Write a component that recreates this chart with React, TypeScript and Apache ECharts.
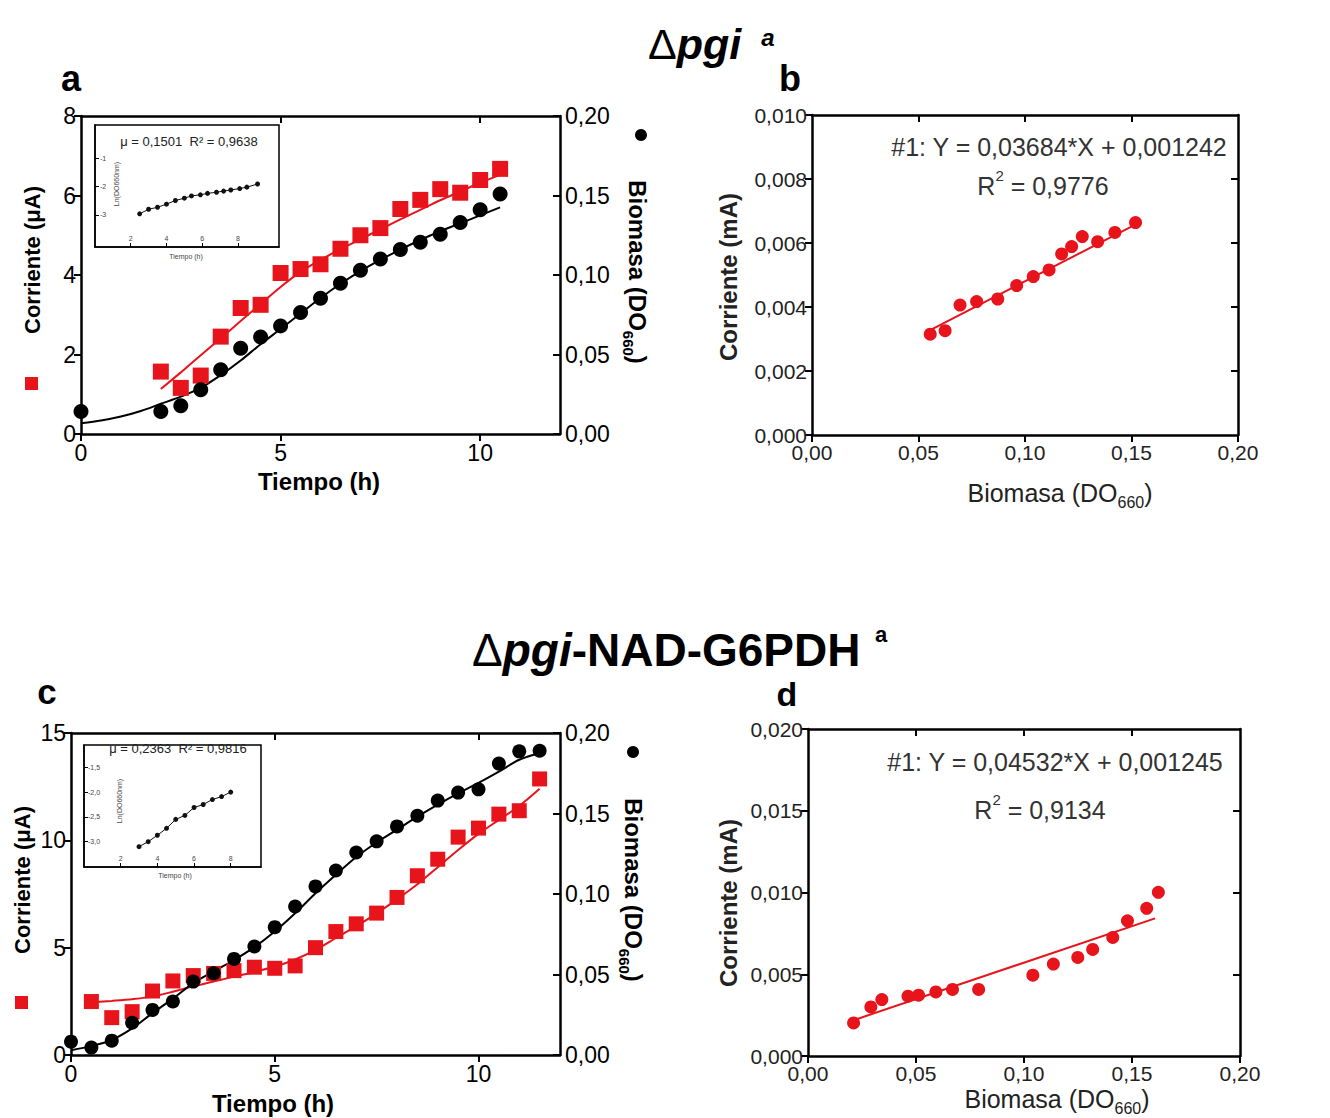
import React, { useEffect, useRef } from "react";
import * as echarts from "echarts";

const RED = "#e8141c";
const FONT = "'Liberation Sans', Arial, Helvetica, sans-serif";

// ---------- Panel a (Δpgi) ----------
const timeACorr = [2, 2.5, 3, 3.5, 4, 4.5, 5, 5.5, 6, 6.5, 7, 7.5, 8, 8.5, 9, 9.5, 10, 10.5];
const corrA = [1.57, 1.16, 1.47, 2.45, 3.17, 3.25, 4.05, 4.15, 4.27, 4.66, 5.0, 5.18, 5.66, 5.89, 6.16, 6.07, 6.39, 6.67];
const timeABio = [0, 2, 2.5, 3, 3.5, 4, 4.5, 5, 5.5, 6, 6.5, 7, 7.5, 8, 8.5, 9, 9.5, 10, 10.5];
const bioA = [0.0142, 0.0142, 0.0178, 0.0278, 0.0404, 0.054, 0.061, 0.068, 0.0764, 0.0854, 0.0948, 0.103, 0.11, 0.116, 0.1206, 0.1256, 0.133, 0.141, 0.151];
const fitACorrX = [2, 2.5, 3, 3.5, 4, 4.5, 5, 5.5, 6, 6.5, 7, 7.5, 8, 8.5, 9, 9.5, 10, 10.5];
const fitACorrY = [1.13, 1.55, 1.98, 2.41, 2.84, 3.27, 3.7, 4.08, 4.38, 4.65, 4.9, 5.15, 5.4, 5.64, 5.88, 6.1, 6.32, 6.52];
const fitABioX = [0, 0.5, 1, 1.5, 2, 2.5, 3, 3.5, 4, 4.5, 5, 5.5, 6, 6.5, 7, 7.5, 8, 8.5, 9, 9.5, 10, 10.5];
const fitABioY = [0.0068, 0.0085, 0.011, 0.0145, 0.019, 0.0235, 0.029, 0.037, 0.0462, 0.0565, 0.066, 0.0758, 0.0855, 0.0945, 0.1025, 0.1095, 0.116, 0.122, 0.1275, 0.1325, 0.1375, 0.1425];
const insetAX = [2.5, 3.0, 3.5, 4.0, 4.5, 5.0, 5.4, 5.9, 6.3, 6.8, 7.2, 7.6, 8.1, 8.5, 9.1];
const insetAY = [-2.96, -2.8, -2.73, -2.62, -2.49, -2.41, -2.33, -2.29, -2.24, -2.2, -2.16, -2.12, -2.07, -2.02, -1.91];

// ---------- Panel b ----------
const bioB = [0.0555, 0.0625, 0.0695, 0.0773, 0.0872, 0.0961, 0.1039, 0.1113, 0.1172, 0.1219, 0.1269, 0.1341, 0.1422, 0.1519];
const corrB = [0.00315, 0.00326, 0.00406, 0.00417, 0.00425, 0.00467, 0.00495, 0.00516, 0.00566, 0.00589, 0.0062, 0.00604, 0.00633, 0.00664];
const fitBX = [0.0555, 0.152];
const fitBY = [0.00328, 0.00658];

// ---------- Panel c (Δpgi-NAD-G6PDH) ----------
const timeCCorr = [0.5, 1, 1.5, 2, 2.5, 3, 3.5, 4, 4.5, 5, 5.5, 6, 6.5, 7, 7.5, 8, 8.5, 9, 9.5, 10, 10.5, 11, 11.5];
const corrC = [2.49, 1.74, 2.02, 2.98, 3.45, 3.7, 3.8, 3.93, 4.09, 4.04, 4.15, 5.0, 5.75, 6.11, 6.61, 7.34, 8.35, 9.12, 10.15, 10.57, 11.22, 11.38, 12.86];
const timeCBio = [0, 0.5, 1, 1.5, 2, 2.5, 3, 3.5, 4, 4.5, 5, 5.5, 6, 6.5, 7, 7.5, 8, 8.5, 9, 9.5, 10, 10.5, 11, 11.5];
const bioC = [0.0083, 0.0046, 0.0089, 0.02, 0.028, 0.0332, 0.0456, 0.0508, 0.0597, 0.0674, 0.0794, 0.0922, 0.1047, 0.1146, 0.1258, 0.1327, 0.142, 0.1486, 0.158, 0.163, 0.165, 0.181, 0.1886, 0.189];
const fitCCorrX = [0.5, 1, 1.5, 2, 2.5, 3, 3.5, 4, 4.5, 5, 5.5, 6, 6.5, 7, 7.5, 8, 8.5, 9, 9.5, 10, 10.5, 11, 11.5];
const fitCCorrY = [2.45, 2.52, 2.6, 2.72, 2.95, 3.2, 3.42, 3.65, 3.87, 4.12, 4.45, 4.9, 5.45, 6.0, 6.6, 7.25, 7.95, 8.75, 9.55, 10.3, 10.95, 11.6, 12.4];
const fitCBioX = [0, 0.5, 1, 1.5, 2, 2.5, 3, 3.5, 4, 4.5, 5, 5.5, 6, 6.5, 7, 7.5, 8, 8.5, 9, 9.5, 10, 10.5, 11, 11.5];
const fitCBioY = [0.003, 0.0055, 0.0093, 0.0165, 0.026, 0.035, 0.0446, 0.052, 0.059, 0.067, 0.0767, 0.088, 0.1005, 0.112, 0.123, 0.132, 0.14, 0.148, 0.1555, 0.1625, 0.169, 0.176, 0.1834, 0.1876];
const insetCX = [3, 3.5, 4, 4.5, 5, 5.5, 6, 6.5, 7, 7.5, 8];
const insetCY = [-3.1, -3.0, -2.87, -2.73, -2.55, -2.47, -2.31, -2.25, -2.15, -2.09, -2.0];

// ---------- Panel d ----------
const bioD = [0.0211, 0.0291, 0.0342, 0.0463, 0.0512, 0.0592, 0.0669, 0.079, 0.1041, 0.1136, 0.1249, 0.1318, 0.1411, 0.1479, 0.1568, 0.1622];
const corrD = [0.00202, 0.003, 0.00345, 0.00366, 0.00372, 0.00392, 0.00407, 0.00407, 0.00494, 0.00562, 0.00603, 0.00652, 0.00725, 0.00827, 0.00903, 0.01001];
const fitDX = [0.0211, 0.1607];
const fitDY = [0.00219, 0.00842];

// ---------- tick values ----------
const timeTicks = [0, 5, 10];
const timeTopTicks = [5, 10];
const curATicks = [0, 2, 4, 6, 8];
const curCTicks = [0, 5, 10, 15];
const bioTicks = [0, 0.05, 0.1, 0.15, 0.2];
const bioInnerTicks = [0.05, 0.1, 0.15];
const mABTicks = [0, 0.002, 0.004, 0.006, 0.008, 0.01];
const mABInner = [0.002, 0.004, 0.006, 0.008];
const mADTicks = [0, 0.005, 0.01, 0.015, 0.02];
const mADInner = [0.005, 0.01, 0.015];
const insetTimeTicks = [2, 4, 6, 8];
const insetATicks = [-3, -2, -1];
const insetCTicks = [-3, -2.5, -2, -1.5];

const zip = (xs: number[], ys: number[]) => xs.map((x, i) => [x, ys[i]]);
const comma = (d: number) => (v: number) => v.toFixed(d).replace(".", ",");

const AX = { show: true, onZero: false, lineStyle: { color: "#000", width: 2.5 } };

function mainAxis(o: any) {
  const labelsShown = o.labels !== undefined;
  return {
    type: "value",
    gridIndex: o.grid,
    position: o.position,
    min: o.min,
    max: o.max,
    axisLine: AX,
    splitLine: { show: false },
    axisTick: {
      show: true,
      inside: !!o.inside,
      length: o.tickLen || 7,
      customValues: o.ticks,
      lineStyle: { color: "#000", width: 2 },
    },
    axisLabel: labelsShown
      ? {
          show: true,
          customValues: o.labels,
          formatter: o.fmt,
          fontSize: o.fontSize || 23,
          fontFamily: FONT,
          color: o.color || "#000",
          margin: o.margin || 6,
        }
      : { show: false },
  };
}

function insetAxis(o: any) {
  return {
    type: "value",
    gridIndex: o.grid,
    position: o.position,
    min: o.min,
    max: o.max,
    axisLine: { show: true, onZero: false, lineStyle: { color: "#000", width: 1.5 } },
    splitLine: { show: false },
    axisTick: { show: true, inside: true, length: 4, customValues: o.ticks, lineStyle: { color: "#000", width: 1 } },
    axisLabel: {
      show: true,
      inside: true,
      customValues: o.ticks,
      formatter: o.fmt,
      fontSize: 7,
      fontFamily: FONT,
      color: "#444",
      margin: o.margin || 5,
    },
  };
}

function T(x: number, y: number, text: string, o: any = {}) {
  return {
    type: "text",
    x,
    y,
    rotation: o.rotation || 0,
    z: 100,
    style: {
      text,
      fontFamily: FONT,
      fontSize: o.size || 22,
      fontWeight: o.weight || "normal",
      fontStyle: o.fstyle || "normal",
      fill: o.color || "#000",
      align: o.align || "center",
      verticalAlign: "middle",
      rich: o.rich,
    },
  };
}

function bioRich(size: number, weight: string, color: string) {
  return {
    m: { fontSize: size, fontWeight: weight, fontFamily: FONT, fill: color, lineHeight: size + 2, verticalAlign: "top" },
    s: { fontSize: Math.round(size * 0.62), fontWeight: weight, fontFamily: FONT, fill: color, lineHeight: Math.round(size * 0.62), padding: [Math.round(size * 0.55), 0, 0, 0], verticalAlign: "top" },
  };
}

function r2Rich(size: number, color: string) {
  return {
    m: { fontSize: size, fontFamily: FONT, fill: color, lineHeight: size, padding: [6, 0, 0, 0], verticalAlign: "top" },
    p: { fontSize: Math.round(size * 0.6), fontFamily: FONT, fill: color, lineHeight: Math.round(size * 0.6), verticalAlign: "top" },
  };
}

const titleRich = (size: number) => ({
  d: { fontSize: size, fontFamily: FONT, fontWeight: "normal", fill: "#000", lineHeight: size },
  i: { fontSize: size, fontFamily: FONT, fontWeight: "bold", fontStyle: "italic", fill: "#000", lineHeight: size },
  b: { fontSize: size, fontFamily: FONT, fontWeight: "bold", fill: "#000", lineHeight: size },
});

const scatter = (x: number, y: number, data: number[][], symbol: string, size: number, color: string) => ({
  type: "scatter",
  xAxisIndex: x,
  yAxisIndex: y,
  data,
  symbol,
  symbolSize: size,
  itemStyle: { color, opacity: 1 },
  z: 4,
  silent: true,
});

const fit = (x: number, y: number, data: number[][], color: string, smooth: boolean) => ({
  type: "line",
  xAxisIndex: x,
  yAxisIndex: y,
  data,
  symbol: "none",
  showSymbol: false,
  smooth: smooth ? 0.3 : false,
  lineStyle: { color, width: 2 },
  z: 3,
  silent: true,
});

const insetLine = (x: number, y: number, data: number[][]) => ({
  type: "line",
  xAxisIndex: x,
  yAxisIndex: y,
  data,
  symbol: "circle",
  symbolSize: 5,
  showSymbol: true,
  itemStyle: { color: "#111" },
  lineStyle: { color: "#111", width: 1 },
  z: 6,
  silent: true,
});

const option: any = {
  animation: false,
  backgroundColor: "#fff",
  grid: [
    { left: 81, top: 116, width: 479, height: 318, outerBoundsMode: "none" },
    { left: 95, top: 125, width: 184, height: 122, show: true, backgroundColor: "#fff", borderColor: "#000", borderWidth: 1.5, outerBoundsMode: "none" },
    { left: 812, top: 115, width: 426, height: 320, outerBoundsMode: "none" },
    { left: 71, top: 733, width: 489, height: 322, outerBoundsMode: "none" },
    { left: 84, top: 745, width: 177, height: 122, show: true, backgroundColor: "#fff", borderColor: "#000", borderWidth: 1.5, outerBoundsMode: "none" },
    { left: 808, top: 729, width: 432, height: 327, outerBoundsMode: "none" },
  ],
  xAxis: [
    mainAxis({ grid: 0, position: "bottom", min: 0, max: 12, ticks: timeTicks, labels: timeTicks, margin: 7 }),
    mainAxis({ grid: 0, position: "top", min: 0, max: 12, ticks: timeTopTicks, inside: true }),
    insetAxis({ grid: 1, position: "bottom", min: 0, max: 10.3, ticks: insetTimeTicks }),
    mainAxis({ grid: 2, position: "bottom", min: 0, max: 0.2, ticks: bioTicks, labels: bioTicks, fmt: comma(2), fontSize: 21, color: "#222", margin: 7 }),
    mainAxis({ grid: 2, position: "top", min: 0, max: 0.2, ticks: bioInnerTicks, inside: true }),
    mainAxis({ grid: 3, position: "bottom", min: 0, max: 12, ticks: timeTicks, labels: timeTicks, margin: 7 }),
    mainAxis({ grid: 3, position: "top", min: 0, max: 12, ticks: timeTopTicks, inside: true }),
    insetAxis({ grid: 4, position: "bottom", min: 0, max: 9.65, ticks: insetTimeTicks }),
    mainAxis({ grid: 5, position: "bottom", min: 0, max: 0.2, ticks: bioTicks, labels: bioTicks, fmt: comma(2), fontSize: 21, color: "#222", margin: 7 }),
    mainAxis({ grid: 5, position: "top", min: 0, max: 0.2, ticks: bioInnerTicks, inside: true }),
  ],
  yAxis: [
    mainAxis({ grid: 0, position: "left", min: 0, max: 8, ticks: curATicks, labels: curATicks, margin: 5 }),
    mainAxis({ grid: 0, position: "right", min: 0, max: 0.2, ticks: bioTicks, labels: bioTicks, fmt: comma(2), inside: true, margin: 5 }),
    insetAxis({ grid: 1, position: "left", min: -4.13, max: 0.17, ticks: insetATicks, fmt: (v: number) => String(v), margin: 5 }),
    mainAxis({ grid: 2, position: "left", min: 0, max: 0.01, ticks: mABTicks, labels: mABTicks, fmt: comma(3), fontSize: 21, color: "#222", margin: 5 }),
    mainAxis({ grid: 2, position: "right", min: 0, max: 0.01, ticks: mABInner, inside: true }),
    mainAxis({ grid: 3, position: "left", min: 0, max: 15, ticks: curCTicks, labels: curCTicks, margin: 5 }),
    mainAxis({ grid: 3, position: "right", min: 0, max: 0.2, ticks: bioTicks, labels: bioTicks, fmt: comma(2), inside: true, margin: 5 }),
    insetAxis({ grid: 4, position: "left", min: -3.51, max: -1.05, ticks: insetCTicks, fmt: comma(1), margin: 4 }),
    mainAxis({ grid: 5, position: "left", min: 0, max: 0.02, ticks: mADTicks, labels: mADTicks, fmt: comma(3), fontSize: 21, color: "#222", margin: 5 }),
    mainAxis({ grid: 5, position: "right", min: 0, max: 0.02, ticks: mADInner, inside: true }),
  ],
  series: [
    // panel a
    fit(0, 0, zip(fitACorrX, fitACorrY), RED, true),
    scatter(0, 0, zip(timeACorr, corrA), "rect", 16, RED),
    fit(0, 1, zip(fitABioX, fitABioY), "#000", true),
    scatter(0, 1, zip(timeABio, bioA), "circle", 15, "#000"),
    insetLine(2, 2, zip(insetAX, insetAY)),
    // panel b
    fit(3, 3, zip(fitBX, fitBY), RED, false),
    scatter(3, 3, zip(bioB, corrB), "circle", 13, RED),
    // panel c
    fit(5, 5, zip(fitCCorrX, fitCCorrY), RED, true),
    scatter(5, 5, zip(timeCCorr, corrC), "rect", 15, RED),
    fit(5, 6, zip(fitCBioX, fitCBioY), "#000", true),
    scatter(5, 6, zip(timeCBio, bioC), "circle", 14, "#000"),
    insetLine(7, 7, zip(insetCX, insetCY)),
    // panel d
    fit(8, 8, zip(fitDX, fitDY), RED, false),
    scatter(8, 8, zip(bioD, corrD), "circle", 13, RED),
  ],
  graphic: [
    // titles
    T(648, 44, "{d|Δ}{i|pgi}", { align: "left", rich: titleRich(43), size: 43 }),
    T(768, 37, "a", { size: 24, weight: "bold", fstyle: "italic" }),
    T(472, 650, "{d|Δ}{i|pgi}{b|-NAD-G6PDH}", { align: "left", rich: titleRich(46), size: 46 }),
    T(881, 634, "a", { size: 22, weight: "bold" }),
    // panel letters
    T(71, 78, "a", { size: 36, weight: "bold" }),
    T(790, 78, "b", { size: 36, weight: "bold" }),
    T(47, 691, "c", { size: 35, weight: "bold" }),
    T(787, 694, "d", { size: 34, weight: "bold" }),
    // panel a axis titles
    T(32, 260, "Corriente (μA)", { size: 22, weight: "bold", rotation: Math.PI / 2 }),
    { type: "rect", shape: { x: 25, y: 377, width: 13, height: 13 }, style: { fill: RED }, z: 100 },
    T(319, 481, "Tiempo (h)", { size: 24, weight: "bold" }),
    { type: "circle", shape: { cx: 641, cy: 135, r: 6 }, style: { fill: "#000" }, z: 100 },
    T(636, 272, "{m|Biomasa (DO}{s|660}{m|)}", { rotation: -Math.PI / 2, rich: bioRich(24, "bold", "#000") }),
    // inset a texts
    T(189, 141, "μ = 0,1501  R² = 0,9638", { size: 13, color: "#222" }),
    T(116, 184, "Ln(DO660nm)", { size: 7, color: "#444", rotation: Math.PI / 2 }),
    T(186, 256, "Tiempo (h)", { size: 7, color: "#444" }),
    // panel b texts
    T(728, 277, "Corriente (mA)", { size: 24, weight: "bold", color: "#222", rotation: Math.PI / 2 }),
    T(1060, 494, "{m|Biomasa (DO}{s|660}{m|)}", { rich: bioRich(25, "normal", "#222") }),
    T(1059, 147, "#1: Y = 0,03684*X + 0,001242", { size: 25, color: "#333" }),
    T(1043, 180, "{m|R}{p|2}{m| = 0,9776}", { rich: r2Rich(25, "#333") }),
    // panel c axis titles
    T(22, 880, "Corriente (μA)", { size: 22, weight: "bold", rotation: Math.PI / 2 }),
    { type: "rect", shape: { x: 15, y: 996, width: 13, height: 13 }, style: { fill: RED }, z: 100 },
    T(273, 1103, "Tiempo (h)", { size: 24, weight: "bold" }),
    { type: "circle", shape: { cx: 633, cy: 752, r: 6 }, style: { fill: "#000" }, z: 100 },
    T(632, 890, "{m|Biomasa (DO}{s|660}{m|)}", { rotation: -Math.PI / 2, rich: bioRich(24, "bold", "#000") }),
    // inset c texts
    T(178, 748, "μ = 0,2363  R² = 0,9816", { size: 13, color: "#222" }),
    T(119, 801, "Ln(DO660nm)", { size: 7, color: "#444", rotation: Math.PI / 2 }),
    T(175, 875, "Tiempo (h)", { size: 7, color: "#444" }),
    // panel d texts
    T(728, 903, "Corriente (mA)", { size: 24, weight: "bold", color: "#222", rotation: Math.PI / 2 }),
    T(1057, 1100, "{m|Biomasa (DO}{s|660}{m|)}", { rich: bioRich(25, "normal", "#222") }),
    T(1055, 762, "#1: Y = 0,04532*X + 0,001245", { size: 25, color: "#333" }),
    T(1040, 804, "{m|R}{p|2}{m| = 0,9134}", { rich: r2Rich(25, "#333") }),
  ],
};

export default function App() {
  const ref = useRef<HTMLDivElement>(null);
  useEffect(() => {
    const chart = echarts.init(ref.current!, null, { renderer: "svg" });
    chart.setOption(option);
    return () => chart.dispose();
  }, []);
  return (
    <div
      ref={ref}
      style={{ position: "absolute", left: 0, top: 0, width: 1330, height: 1118, background: "#fff" }}
    />
  );
}
